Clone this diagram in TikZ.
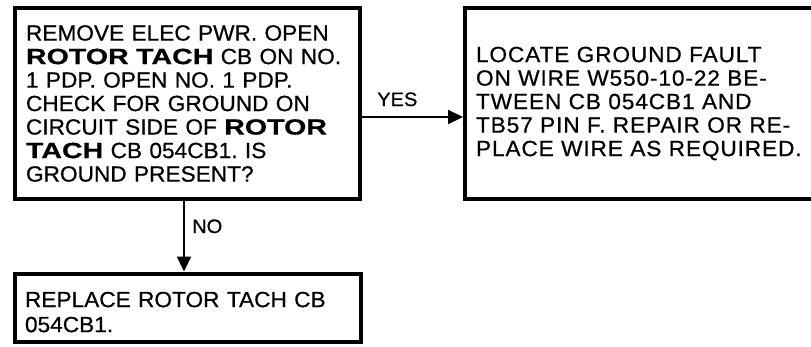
\documentclass[tikz,border=0pt]{standalone}
\usepackage{fontspec}
\setmainfont{Liberation Sans}[UprightFeatures={FakeStretch=1.03, FakeBold=0.6}, BoldFeatures={FakeStretch=1.3, FakeBold=0.6}]
\usetikzlibrary{arrows.meta}
\begin{document}
\frenchspacing
\begin{tikzpicture}[x=1pt,y=-1pt,
  box/.style={draw, line width=4pt, align=left, inner ysep=0pt,
    font=\fontsize{22}{23.5}\selectfont},
  lbl/.style={inner sep=0pt, font=\fontsize{19.5}{21}\selectfont},
  arr/.style={line width=2.2pt, -{Triangle[length=15pt,width=14pt]}}]
\useasboundingbox (0,0) rectangle (811,346);
\node[box, inner xsep=11pt, text width=323pt, minimum width=345pt, minimum height=191pt] (b1) at (187.5,103.5)
 {REMOVE ELEC PWR. OPEN\\
  \textbf{ROTOR TACH} CB ON NO.\\
  1 PDP. OPEN NO. 1 PDP.\\
  CHECK FOR GROUND ON\\
  CIRCUIT SIDE OF \textbf{ROTOR}\\
  \textbf{TACH} CB 054CB1. IS\\
  GROUND PRESENT?};
\node[box, inner xsep=11pt, text width=329pt, minimum width=351pt, minimum height=191pt,
  font=\fontsize{22}{23.5}\selectfont\addfontfeatures{LetterSpace=4}] (b2) at (640.5,103.5)
 {LOCATE GROUND FAULT\\
  ON WIRE W550-10-22 BE-\\
  TWEEN CB 054CB1 AND\\
  TB57 PIN F. REPAIR OR RE-\\
  PLACE WIRE AS REQUIRED.};
\node[box, inner xsep=10pt, text width=326pt, minimum width=346pt, minimum height=68.5pt,
  font=\fontsize{22}{25}\selectfont] (b3) at (188,307.75)
 {\rule{0pt}{24pt}REPLACE ROTOR TACH CB\\
  054CB1.};
\draw[arr] ([xshift=-3.5pt]b1.south) -- ([xshift=-4pt]b3.north);
\draw[arr] (b1.east |- 0,117) -- (b2.west |- 0,117);
\node[lbl, anchor=base west] (yes) at (377,106) {YES};
\node[lbl, anchor=base west] (no) at (192,233) {NO};
\end{tikzpicture}
\end{document}
